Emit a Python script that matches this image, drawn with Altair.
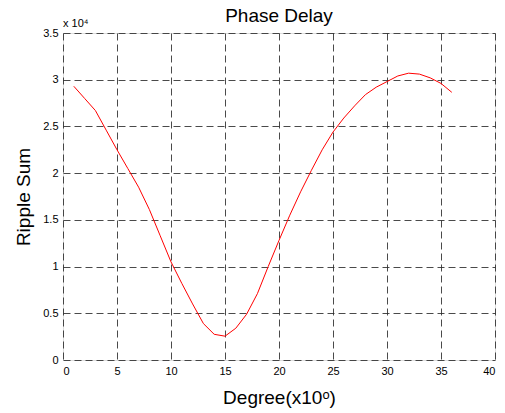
import altair as alt
import pandas as pd

degree = list(range(1, 37))
ripple = [2.93, 2.80, 2.67, 2.46, 2.25, 2.05, 1.85, 1.61, 1.33, 1.05,
          0.82, 0.60, 0.39, 0.275, 0.255, 0.34, 0.49, 0.71, 1.00, 1.28,
          1.55, 1.80, 2.03, 2.25, 2.44, 2.59, 2.72, 2.84, 2.92, 2.98,
          3.04, 3.07, 3.06, 3.02, 2.96, 2.865]
x_ticks = [0, 5, 10, 15, 20, 25, 30, 35, 40]
y_ticks = [0, 0.5, 1, 1.5, 2, 2.5, 3, 3.5]

df = pd.DataFrame({"Degree": degree, "Ripple": ripple})

FONT = "Liberation Sans"

line = alt.Chart(df).mark_line(color="#ff0000", strokeWidth=1).encode(
    x=alt.X("Degree:Q",
            scale=alt.Scale(domain=[0, 40], nice=False),
            axis=alt.Axis(values=x_ticks, grid=True, gridDash=[7, 4], gridColor="#2a2a2a",
                          gridOpacity=0.85, ticks=False, domain=False, labelPadding=5,
                          labelFontSize=11, labelColor="black", labelFont=FONT,
                          title="Degree(x10ᵒ)", titleFont=FONT, titleFontSize=19,
                          titleFontWeight="normal", titleColor="black",
                          titleY=37, titleBaseline="middle")),
    y=alt.Y("Ripple:Q",
            scale=alt.Scale(domain=[0, 3.5], nice=False),
            axis=alt.Axis(values=y_ticks, grid=True, gridDash=[7, 4], gridColor="#2a2a2a",
                          gridOpacity=0.85, ticks=False, domain=False, labelPadding=5,
                          labelExpr="'' + datum.value",
                          labelFontSize=11, labelColor="black", labelFont=FONT,
                          title="Ripple Sum", titleFont=FONT, titleFontSize=19,
                          titleFontWeight="normal", titleColor="black",
                          titleX=-40, titleBaseline="middle", titleAngle=-90)),
)

note = alt.Chart(pd.DataFrame({"t": ["x 10⁴"]})).mark_text(
    align="left", baseline="alphabetic", fontSize=11, font=FONT, color="black"
).encode(x=alt.value(0), y=alt.value(-6), text="t:N")

title = alt.Chart(pd.DataFrame({"t": ["Phase Delay"]})).mark_text(
    align="center", baseline="alphabetic", fontSize=19, font=FONT, color="black"
).encode(x=alt.value(216), y=alt.value(-11), text="t:N")

chart = alt.layer(line, note, title).properties(
    width=432, height=327,
    autosize=alt.AutoSizeParams(type="none"),
    padding={"left": 63, "top": 33, "right": 10, "bottom": 53},
).configure_view(stroke="black", strokeWidth=1.2).configure(background="white")

chart.save("out.html", embed_options={"renderer": "svg", "actions": False})
